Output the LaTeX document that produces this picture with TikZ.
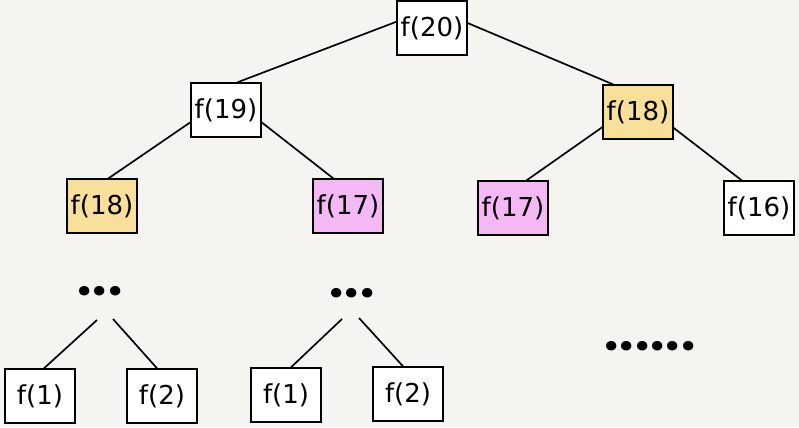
\documentclass[tikz,border=0pt]{standalone}
\usepackage{fontspec}
\setmainfont{DejaVu Sans}
\newfontfamily\dotfont[LetterSpace=2]{Poppins}
\definecolor{paper}{RGB}{245,244,240}
\definecolor{fyellow}{RGB}{248,223,154}
\definecolor{fpink}{RGB}{244,184,244}
\begin{document}
\begin{tikzpicture}[x=0.025cm,y=-0.025cm,
		call/.style={draw,line width=0.8pt,fill=white,minimum width=1.75cm,minimum height=1.35cm,inner sep=0pt,font=\fontsize{18.5}{22}\selectfont},
		dup/.style={call,fill=fyellow},
		dup2/.style={call,fill=fpink},
		more/.style={inner sep=0pt,font=\fontsize{36}{36}\dotfont\bfseries},
		edge/.style={line width=1.2pt}]
		\fill[paper] (0,0) rectangle (799,427);
		\useasboundingbox (0,0) rectangle (799,427);
		\draw (432,28) node[call](f-20){f(20)};
		\draw (226,110) node[call](f-19){f(19)} (638,112) node[dup](f-18r){f(18)};
		\draw (102,206) node[dup](f-18l){f(18)} (348,206) node[dup2](f-17l){f(17)};
		\draw (513,208) node[dup2](f-17r){f(17)} (759,208) node[call](f-16){f(16)};
		\draw (100,291) node[more](d-1){...} (352,293) node[more](d-2){...} (650,346) node[more](d-3){......};
		\draw (40,396) node[call](l-1){f(1)} (162,396) node[call](l-2){f(2)};
		\draw (286,395) node[call](m-1){f(1)} (408,394) node[call](m-2){f(2)};
		\coordinate (d-1a) at (97,320); \coordinate (d-1b) at (113,319);
		\coordinate (d-2a) at (342,319); \coordinate (d-2b) at (359,318);
		\draw[edge] (f-20.170) -- (f-19.68) (f-20.8) -- (f-18r.132);
		\draw[edge] (f-19.199) -- (f-18l.77) (f-19.341) -- (f-17l.118);
		\draw[edge] (f-18r.203) -- (f-17r.64) (f-18r.336) -- (f-16.122);
		\draw[edge] (d-1a) -- (l-1.82) (d-1b) -- (l-2.100);
		\draw[edge] (d-2a) -- (m-1.80) (d-2b) -- (m-2.100);
	\end{tikzpicture}
\end{document}
